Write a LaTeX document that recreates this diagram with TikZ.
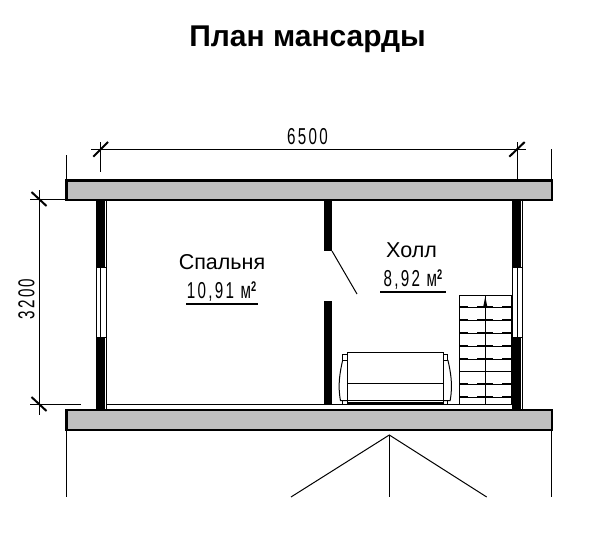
\documentclass[tikz,border=0pt]{standalone}
\usepackage{fontspec}
\setmainfont{Liberation Sans}
\newfontfamily\cadfont[FakeStretch=0.66,LetterSpace=10]{Liberation Sans}
\usetikzlibrary{arrows}
\begin{document}
\begin{tikzpicture}[x=1pt,y=-1pt,line join=miter]
\tikzstyle{every node}=[inner sep=0pt]
\tikzstyle{slab}=[draw, fill=black!25, line width=2.3pt]
\tikzstyle{thin}=[line width=1pt]
\tikzstyle{tick}=[line width=2pt]
\tikzstyle{core}=[fill=black]
\tikzstyle{dimtext}=[font=\cadfont\fontsize{23}{23}\selectfont]
\tikzstyle{areatext}=[font=\cadfont\fontsize{23}{23}\selectfont]
\useasboundingbox (0,0) rectangle (589,551);
\node (title) at (307.5,39) {\fontsize{30}{30}\selectfont\bfseries План мансарды};
% slabs
\draw[slab] (66.5,180.5) rectangle (552,200);
\draw[slab] (66.5,410) rectangle (552,430);
% outer walls
\foreach \x/\c in {96/100.7,512/517.2}{
  \draw[thin] (\x,200) rectangle (\x+10.3,410);
  \draw[thin] (\c,267) -- (\c,337);
  \fill[core] (\x+1.4,200) rectangle (\x+9.3,267);
  \fill[core] (\x+1.4,337) rectangle (\x+9.3,410);
  \draw[thin] (\x,267) -- (\x+10.3,267);
  \draw[thin] (\x,337) -- (\x+10.3,337);
}
% partition and door
\fill[core] (324,200) rectangle (332,251);
\fill[core] (324,301) rectangle (332,404);
\draw[thin] (332,251) -- (357,294);
\draw[thin] (106.5,404) -- (512,404);
% dimensions
\draw[thin] (91,149) -- (526,149);
\draw[thin] (66.3,155) -- (66.3,180);
\draw[thin] (100.3,142) -- (100.3,172);
\draw[thin] (517.5,142) -- (517.5,180);
\draw[thin] (551.5,149) -- (551.5,180);
\draw[tick] (93.3,156.7) -- (108,142);
\draw[tick] (509.3,156.7) -- (524.7,142);
\draw[thin] (30,199.5) -- (66,199.5);
\draw[thin] (30,404) -- (81,404);
\draw[thin] (39.5,190) -- (39.5,415);
\draw[tick] (31.5,192) -- (46.5,206);
\draw[tick] (31.5,397) -- (46.5,411);
\node[dimtext] (widthlabel) at (307.5,136.5) {6500};
\node[dimtext,rotate=90] (heightlabel) at (26.5,299) {3200};
% below the plan
\draw[thin] (66.3,430) -- (66.3,497);
\draw[thin] (551.5,430) -- (551.5,497);
\draw[thin] (389.3,435) -- (389.3,497);
\draw[thin] (291,497) -- (389.3,435) -- (486.7,497);
% sofa
\draw[thin] (347.3,352.3) rectangle (443.3,403.3);
\draw[thin] (347.3,383.3) -- (443.3,383.3);
\draw[thin] (347.3,400.7) -- (443.3,400.7);
\draw[line width=1.2pt] (347.3,402.8) -- (443.3,402.8);
\foreach \s/\e in {347.3/342.7,443.3/447.9}{
  \draw[thin] (\s,354.5) -- (\e,354.5) -- (\e,360);
  \draw[thin] (\e,360) -- (\s,360);
  \draw[thin] (\e,400.7) -- (\e,404);
}
\draw[thin] (342.7,360) .. controls (340,372) and (337.5,385) .. (340.5,400.7) -- (347.3,400.7);
\draw[thin] (447.9,360) .. controls (450.6,372) and (453.1,385) .. (450.1,400.7) -- (443.3,400.7);
% stairs
\draw[thin] (459.5,295.5) rectangle (511,404);
\draw[thin] (485.3,295.5) -- (485.3,404);
\foreach \y in {307.7,320.6,333.4,346.2,359,371.8,384.7,397.5}{
  \draw[thin] (459.5,\y) -- (511,\y);
  \draw[line width=1.5pt] (459.5,\y-0.5) -- (468,\y-0.5);
  \draw[line width=1.5pt] (477,\y-0.5) -- (493,\y-0.5);
  \draw[line width=1.5pt] (502,\y-0.5) -- (511,\y-0.5);
}
\fill[core] (485.3,296.5) -- (487.5,307.7) -- (483,307.7) -- cycle;
% room labels
\node (bedroomname) at (222,262) {\fontsize{21.5}{21.5}\selectfont Спальня};
\node[areatext] (bedroomarea) at (221.5,292) {10,91 м\raisebox{7pt}{\fontsize{14}{14}\selectfont\bfseries 2}};
\draw[line width=1.8pt] (186,304.3) -- (258,304.3);
\node (hallname) at (411.5,250) {\fontsize{21.5}{21.5}\selectfont Холл};
\node[areatext] (hallarea) at (413,280) {8,92 м\raisebox{7pt}{\fontsize{14}{14}\selectfont\bfseries 2}};
\draw[line width=1.8pt] (380,291.7) -- (446,291.7);
\end{tikzpicture}
\end{document}
